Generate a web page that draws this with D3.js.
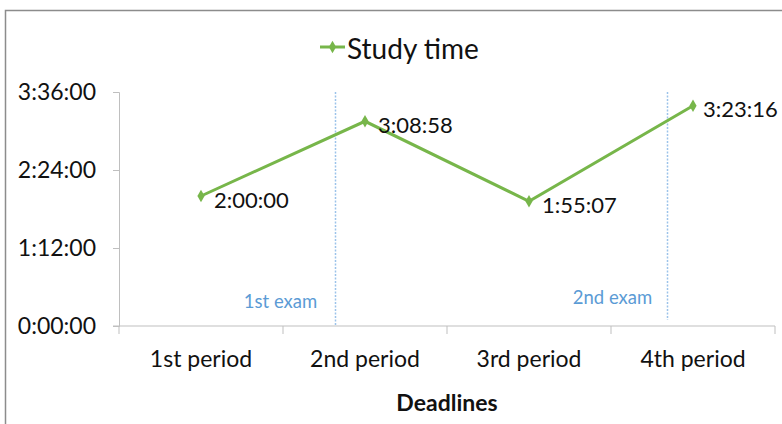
<!DOCTYPE html>
<html><head><meta charset="utf-8">
<script src="https://cdn.jsdelivr.net/npm/d3@7"></script>
<style>body{margin:0;background:#fff}svg{display:block}text{font-family:Lato,"Open Sans",sans-serif}</style>
</head><body>
<svg id="c" width="782" height="424"></svg>
<script>
const categories = ["1st period","2nd period","3rd period","4th period"];
const studyMinutes = [120, 188.97, 115.12, 203.27];
const valueLabels = ["2:00:00","3:08:58","1:55:07","3:23:16"];
const yTicks = [0, 72, 144, 216];
const yTickLabels = ["0:00:00","1:12:00","2:24:00","3:36:00"];
const examNames = ["1st exam","2nd exam"];
const examPositions = [0.82, 2.84];

const svg = d3.select("#c");
const pLeft = 119, pRight = 775, pTop = 92, pBottom = 326;

svg.append("rect").attr("x",5.5).attr("y",10.5).attr("width",900).attr("height",500)
  .attr("fill","none").attr("stroke","#8c8c8c").attr("stroke-width",1.5);

const x = d3.scaleBand().domain(categories).range([pLeft,pRight]);
const xi = d3.scaleLinear().domain([0,3]).range([pLeft + x.bandwidth()/2, pRight - x.bandwidth()/2]);
const y = d3.scaleLinear().domain([0,216]).range([pBottom,pTop]);

// y axis
const yAxis = svg.append("g").attr("transform",`translate(${pLeft},0)`)
  .call(d3.axisLeft(y).tickValues(yTicks).tickFormat((d,i)=>yTickLabels[i]).tickSize(6).tickPadding(17));
yAxis.select(".domain").attr("stroke","#bfbfbf");
yAxis.selectAll(".tick line").attr("stroke","#bfbfbf");
yAxis.selectAll("text").attr("font-size",23).attr("fill","#111");

// x axis
const xAxis = svg.append("g").attr("transform",`translate(0,${pBottom})`)
  .call(d3.axisBottom(x).tickSize(0).tickPadding(25));
xAxis.select(".domain").attr("stroke","#bfbfbf").attr("d",`M${pLeft-6},0H${pRight}`);
xAxis.selectAll("text").attr("font-size",23).attr("fill","#111");
const bounds = categories.map(c=>x(c)).concat([pRight]);
svg.append("g").selectAll("line").data(bounds).join("line")
  .attr("x1",d=>d).attr("x2",d=>d).attr("y1",pBottom).attr("y2",pBottom+8)
  .attr("stroke","#bfbfbf");

svg.append("text").attr("x",(pLeft+pRight)/2).attr("y",411).attr("text-anchor","middle")
  .attr("font-size",23).attr("font-weight","bold").attr("fill","#111").text("Deadlines");

// exam lines
examPositions.forEach((p,i)=>{
  const px = Math.round(xi(p))+0.5;
  svg.append("line").attr("x1",px).attr("x2",px).attr("y1",pTop).attr("y2",i===0?pBottom:320)
    .attr("stroke","#9cc3ea").attr("stroke-width",1.5).attr("stroke-dasharray","2,1.5");
  svg.append("text").attr("x",px-55).attr("y",i===0?308:304).attr("text-anchor","middle")
    .attr("font-size",18.5).attr("fill","#5b9bd5").text(examNames[i]);
});

// line
const color = "#77b64a";
svg.append("path").datum(studyMinutes)
  .attr("d",d3.line().x((d,i)=>xi(i)).y(d=>y(d)))
  .attr("fill","none").attr("stroke",color).attr("stroke-width",3);
const diamond = d3.symbol().type(d3.symbolDiamond).size(45);
svg.append("g").selectAll("path").data(studyMinutes).join("path")
  .attr("d",diamond).attr("transform",(d,i)=>`translate(${xi(i)},${y(d)})`).attr("fill",color);
svg.append("g").selectAll("text").data(studyMinutes).join("text")
  .attr("x",(d,i)=>xi(i)+(i===3?10:13)).attr("y",d=>y(d)+3).attr("dominant-baseline","central")
  .attr("font-size",22).attr("fill","#111").text((d,i)=>valueLabels[i]);

// legend
svg.append("line").attr("x1",320).attr("x2",345).attr("y1",47).attr("y2",47)
  .attr("stroke",color).attr("stroke-width",3);
svg.append("path").attr("d",diamond).attr("transform","translate(332.5,47)").attr("fill",color);
svg.append("text").attr("x",347).attr("y",48).attr("dominant-baseline","central")
  .attr("font-size",28).attr("fill","#111").text("Study time");
</script>
</body></html>
